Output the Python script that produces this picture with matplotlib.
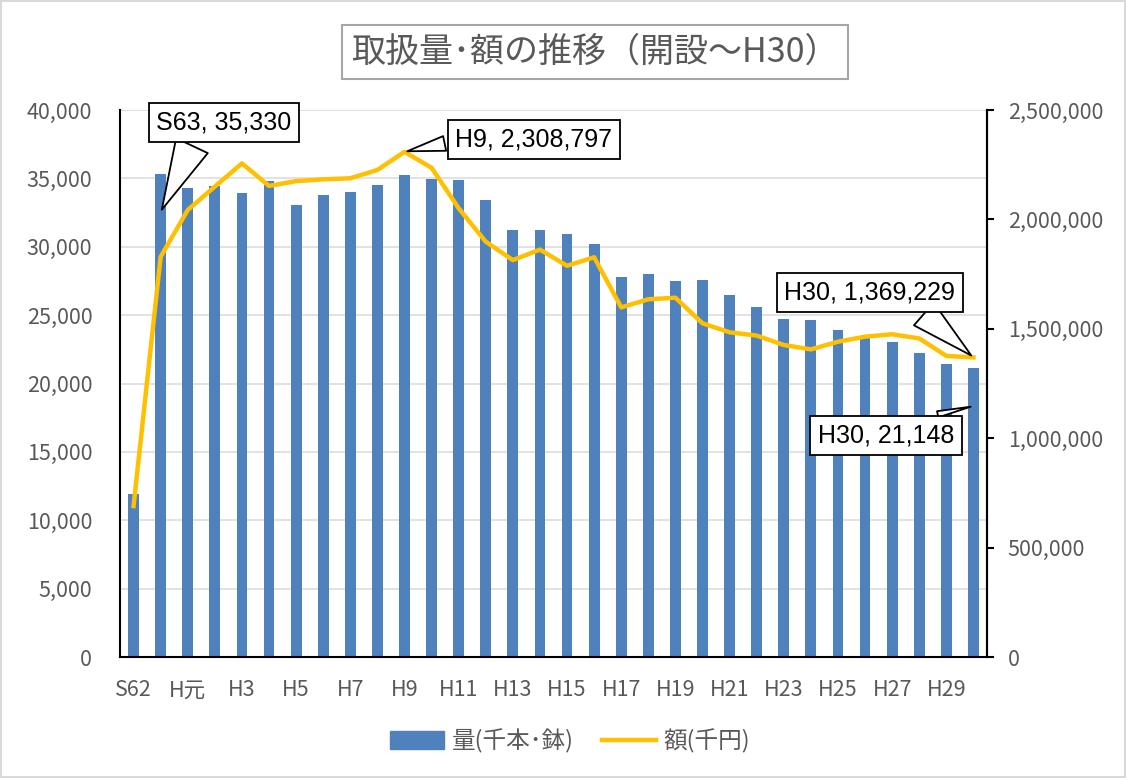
import matplotlib
matplotlib.use("Agg")
import matplotlib.pyplot as plt
from matplotlib.ticker import FuncFormatter, MultipleLocator
from matplotlib.patches import Patch
from matplotlib.lines import Line2D

plt.rcParams['font.family'] = ['Noto Sans CJK JP', 'DejaVu Sans']

# categories S62 .. H30
years = ['S62', 'S63'] + ['H元'] + [f'H{i}' for i in range(2, 31)]
tick_labels = [y if i % 2 == 0 else '' for i, y in enumerate(years)]

# 量(千本・鉢)
qty = [11920, 35330, 34300, 34420, 33910, 34810, 33050, 33780, 33980, 34540,
       35250, 34930, 34880, 33420, 31200, 31230, 30910, 30180, 27770, 28010,
       27470, 27570, 26450, 25590, 24720, 24640, 23880, 23300, 23060, 22210,
       21420, 21148]

# 額(千円)
amount = [690000, 1829000, 2043000, 2150000, 2256000, 2153000, 2175000, 2183000,
          2188000, 2226000, 2308797, 2236000, 2051000, 1898000, 1814000, 1862000,
          1788000, 1827000, 1598000, 1635000, 1642000, 1525000, 1484000, 1469000,
          1426000, 1406000, 1441000, 1464000, 1475000, 1456000, 1376000, 1369229]

bar_color = '#4F81BD'
line_color = '#FFC000'
text_color = '#595959'

fig = plt.figure(figsize=(11.26, 7.78), dpi=100)
fig.patch.set_edgecolor('#D9D9D9')
fig.patch.set_linewidth(1.5)

ax = fig.add_axes([120 / 1126, 1 - 657 / 778, (987 - 120) / 1126, (657 - 110) / 778])
x = list(range(len(years)))
ax.bar(x, qty, width=0.4, color=bar_color, zorder=2)
ax.set_xlim(-0.5, len(years) - 0.5)
ax.set_ylim(0, 40000)
ax.yaxis.set_major_locator(MultipleLocator(5000))
ax.yaxis.set_major_formatter(FuncFormatter(lambda v, p: f'{int(v):,}'))
ax.grid(axis='y', color='#DDDDDD', linewidth=1.2, zorder=0)
ax.set_axisbelow(True)
ax.set_xticks(x)
ax.set_xticklabels(tick_labels)
ax.tick_params(axis='x', length=0, pad=16, labelsize=15.5, labelcolor=text_color)
ax.tick_params(axis='y', length=0, pad=20, labelsize=15.5, labelcolor=text_color)
ax.spines['top'].set_visible(False)
for s in ['left', 'bottom', 'right']:
    ax.spines[s].set_linewidth(1.5)
    ax.spines[s].set_color('black')

ax2 = ax.twinx()
ax2.plot(x, amount, color=line_color, linewidth=3.2, zorder=3)
ax2.set_ylim(0, 2500000)
ax2.yaxis.set_major_locator(MultipleLocator(500000))
ax2.yaxis.set_major_formatter(FuncFormatter(lambda v, p: f'{int(v):,}'))
ax2.tick_params(axis='y', length=5, width=1.5, pad=10, labelsize=15.5, labelcolor=text_color)
ax2.spines['top'].set_visible(False)
ax2.spines['right'].set_linewidth(1.5)
ax2.spines['left'].set_visible(False)
ax2.spines['bottom'].set_visible(False)

box = dict(boxstyle='square,pad=0.3', fc='white', ec='black', lw=1.3)
ann_font = dict(fontsize=18, family='Liberation Sans', ha='center', va='center')

ax.annotate(f'S63, {qty[1]:,}', xy=(1, qty[1] - 2800), xytext=(3.34, 39050),
            bbox=box, zorder=6, annotation_clip=False,
            arrowprops=dict(arrowstyle='wedge,tail_width=1.4', fc='white', ec='black', lw=1.3,
                            relpos=(0.3, 0.0)),
            **ann_font)
ax.annotate(f'H30, {qty[-1]:,}', xy=(31, 18350), xytext=(27.77, 16230),
            bbox=box, zorder=6,
            arrowprops=dict(arrowstyle='wedge,tail_width=0.25', fc='white', ec='black', lw=1.3,
                            relpos=(0.6, 1.0)),
            **ann_font)
ax2.annotate(f'H9, {amount[10]:,}', xy=(10, amount[10]), xytext=(14.78, 2363000),
             bbox=box, zorder=6,
             arrowprops=dict(arrowstyle='wedge,tail_width=0.6', fc='white', ec='black', lw=1.3,
                             relpos=(0.0, 0.45)),
             **ann_font)
ax2.annotate(f'H30, {amount[-1]:,}', xy=(31, amount[-1]), xytext=(27.17, 1668000),
             bbox=box, zorder=6,
             arrowprops=dict(arrowstyle='wedge,tail_width=1.2', fc='white', ec='black', lw=1.3,
                             relpos=(0.75, 0.0)),
             **ann_font)

fig.text(595 / 1126, 1 - 52 / 778, '取扱量･額の推移（開設～H30）', ha='center', va='center',
         fontsize=24.5, color=text_color,
         bbox=dict(boxstyle='square,pad=0.27', fc='white', ec='#A6A6A6', lw=1.5))

handles = [Patch(facecolor=bar_color, edgecolor=bar_color),
           Line2D([0], [0], color=line_color, linewidth=3.2)]
fig.legend(handles, ['量(千本･鉢)', '額(千円)'], loc='center',
           bbox_to_anchor=(570 / 1126, 1 - 741 / 778), ncol=2, frameon=False,
           fontsize=17, labelcolor=text_color, handlelength=2.3, handleheight=0.8,
           columnspacing=1.2, handletextpad=0.3)

fig.savefig('out.png', dpi=100)
